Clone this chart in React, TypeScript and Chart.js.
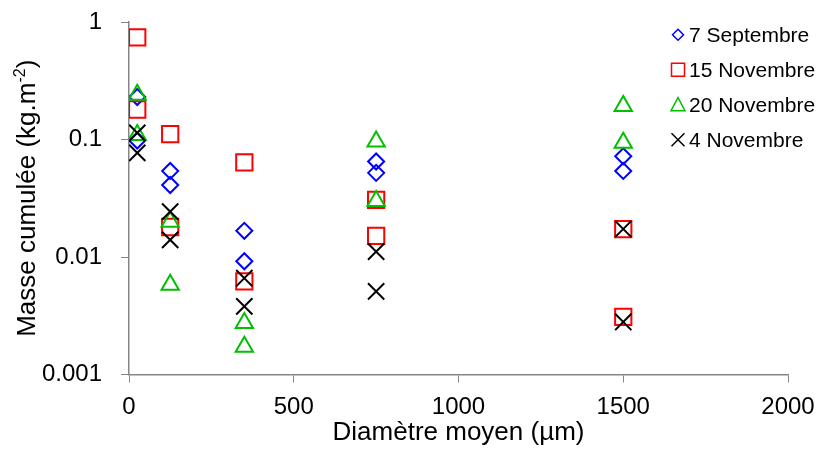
import React, { useEffect, useRef } from 'react';
import { Chart, registerables } from 'chart.js';

Chart.register(...registerables);

// ---- Data ----
const seriesNames = ['7 Septembre', '15 Novembre', '20 Novembre', '4 Novembre'];

const sept7X = [25, 25, 125, 125, 350, 350, 750, 750, 1500, 1500];
const sept7Y = [0.23, 0.098, 0.054, 0.041, 0.0167, 0.0092, 0.065, 0.052, 0.072, 0.054];

const nov15X = [25, 25, 125, 125, 350, 350, 750, 750, 1500, 1500];
const nov15Y = [0.74, 0.18, 0.111, 0.018, 0.064, 0.0062, 0.0306, 0.0151, 0.0173, 0.0031];

const nov20X = [25, 25, 125, 125, 350, 350, 750, 750, 1500, 1500];
const nov20Y = [0.24, 0.109, 0.020, 0.0058, 0.00275, 0.00172, 0.096, 0.030, 0.193, 0.094];

const nov4X = [25, 25, 125, 125, 350, 350, 750, 750, 1500, 1500];
const nov4Y = [0.114, 0.077, 0.0243, 0.014, 0.0066, 0.0038, 0.0111, 0.0051, 0.0173, 0.0028];

const yTickValues = [0.001, 0.01, 0.1, 1];
const yTickLabels = ['0.001', '0.01', '0.1', '1'];

const colors = ['#0000FF', '#FF0000', '#00C000', '#000000'];
const styles = ['rectRot', 'rect', 'triangle', 'crossRot'];
const radii = [8, 11.5, 10, 11.5];

const FONT = "'Liberation Sans', Arial, sans-serif";

const toPoints = (xs: number[], ys: number[]) => xs.map((x, i) => ({ x, y: ys[i] }));

function drawMarker(ctx: CanvasRenderingContext2D, kind: number, x: number, y: number) {
  ctx.beginPath();
  if (kind === 0) {
    const h = 5.5;
    ctx.moveTo(x, y - h);
    ctx.lineTo(x + h, y);
    ctx.lineTo(x, y + h);
    ctx.lineTo(x - h, y);
    ctx.closePath();
  } else if (kind === 1) {
    ctx.rect(x - 6.5, y - 6.5, 13, 13);
  } else if (kind === 2) {
    ctx.moveTo(x, y - 7);
    ctx.lineTo(x + 7, y + 6);
    ctx.lineTo(x - 7, y + 6);
    ctx.closePath();
  } else {
    const h = 6.5;
    ctx.moveTo(x - h, y - h);
    ctx.lineTo(x + h, y + h);
    ctx.moveTo(x + h, y - h);
    ctx.lineTo(x - h, y + h);
  }
  ctx.stroke();
}

const overlayPlugin = {
  id: 'overlay',
  afterDraw(chart: any) {
    const ctx: CanvasRenderingContext2D = chart.ctx;
    const area = chart.chartArea;
    // Y axis title with superscript
    ctx.save();
    ctx.translate(28, (area.top + area.bottom) / 2);
    ctx.rotate(-Math.PI / 2);
    ctx.fillStyle = '#000';
    ctx.textBaseline = 'middle';
    ctx.textAlign = 'left';
    const main = 'Masse cumulée (kg.m';
    const sup = '-2';
    const end = ')';
    ctx.font = `26px ${FONT}`;
    const w1 = ctx.measureText(main).width;
    const w3 = ctx.measureText(end).width;
    ctx.font = `16px ${FONT}`;
    const w2 = ctx.measureText(sup).width;
    const start = -(w1 + w2 + w3) / 2;
    ctx.font = `26px ${FONT}`;
    ctx.fillText(main, start, 0);
    ctx.font = `16px ${FONT}`;
    ctx.fillText(sup, start + w1, -7);
    ctx.font = `26px ${FONT}`;
    ctx.fillText(end, start + w1 + w2, 0);
    ctx.restore();

    // Legend
    ctx.save();
    const baselines = [41.7, 76.7, 111.7, 146.7];
    ctx.font = `21px ${FONT}`;
    ctx.textBaseline = 'alphabetic';
    ctx.textAlign = 'left';
    seriesNames.forEach((name, i) => {
      ctx.strokeStyle = colors[i];
      ctx.lineWidth = 1.5;
      drawMarker(ctx, i, 678, baselines[i] - 7);
      ctx.fillStyle = '#000';
      ctx.fillText(name, 689, baselines[i]);
    });
    ctx.restore();
  },
};

export default function App() {
  const ref = useRef<HTMLCanvasElement>(null);

  useEffect(() => {
    if (!ref.current) return;
    const allX = [sept7X, nov15X, nov20X, nov4X];
    const allY = [sept7Y, nov15Y, nov20Y, nov4Y];
    const chart = new Chart(ref.current, {
      type: 'scatter',
      data: {
        datasets: seriesNames.map((name, i) => ({
          label: name,
          data: toPoints(allX[i], allY[i]),
          pointStyle: styles[i] as any,
          pointRadius: radii[i],
          pointHoverRadius: radii[i],
          pointBorderColor: colors[i],
          pointBackgroundColor: 'rgba(0,0,0,0)',
          pointBorderWidth: 2,
          borderColor: colors[i],
          backgroundColor: 'rgba(0,0,0,0)',
          showLine: false,
          order: 4 - i,
        })),
      },
      options: {
        animation: false,
        responsive: false,
        events: [],
        layout: { padding: { left: 0, right: 37, top: 22, bottom: 0 } },
        plugins: {
          legend: { display: false },
          tooltip: { enabled: false },
          title: { display: false },
        },
        scales: {
          x: {
            type: 'linear',
            min: 0,
            max: 2000,
            afterFit: (s: any) => {
              s.height = 75.5;
              s.paddingLeft = 0;
              s.paddingRight = 0;
            },
            ticks: {
              stepSize: 500,
              color: '#000',
              font: { family: FONT, size: 24 },
              padding: 10,
              maxRotation: 0,
              callback: (v: any) => String(v),
            },
            grid: {
              display: true,
              drawOnChartArea: false,
              drawTicks: true,
              tickLength: 8,
              color: '#868686',
              lineWidth: 1,
            },
            border: { display: true, color: '#868686', width: 1.5 },
            title: {
              display: true,
              text: 'Diamètre moyen (µm)',
              color: '#000',
              font: { family: FONT, size: 26 },
              padding: { top: 0, bottom: 2 },
            },
          },
          y: {
            type: 'logarithmic',
            min: 0.001,
            max: 1,
            afterFit: (s: any) => {
              s.width = 129;
              s.paddingTop = 0;
              s.paddingBottom = 0;
            },
            afterBuildTicks: (s: any) => {
              s.ticks = yTickValues.map((v) => ({ value: v }));
            },
            ticks: {
              color: '#000',
              font: { family: FONT, size: 24 },
              padding: 19,
              autoSkip: false,
              callback: (v: any) => {
                const idx = yTickValues.findIndex((t) => Math.abs(t - Number(v)) < 1e-9);
                return idx >= 0 ? yTickLabels[idx] : '';
              },
            },
            grid: {
              display: true,
              drawOnChartArea: false,
              drawTicks: true,
              tickLength: 8,
              color: '#868686',
              lineWidth: 1,
            },
            border: { display: true, color: '#868686', width: 1.5 },
            title: { display: false },
          },
        },
      },
      plugins: [overlayPlugin],
    });
    return () => chart.destroy();
  }, []);

  return (
    <div style={{ position: 'fixed', left: 0, top: 0, width: 825, height: 450, background: '#fff' }}>
      <canvas ref={ref} width={825} height={450} style={{ width: 825, height: 450, display: 'block' }} />
    </div>
  );
}
